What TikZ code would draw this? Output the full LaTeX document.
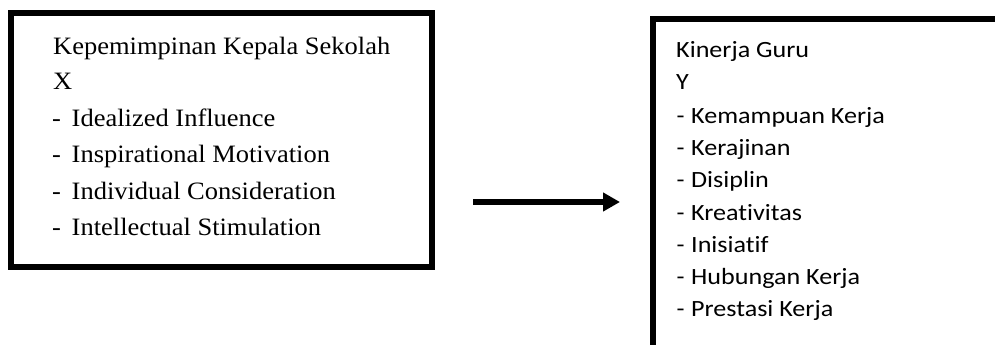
\documentclass[tikz,border=0pt]{standalone}
\usepackage{fontspec}
\usetikzlibrary{arrows.meta}
\newfontfamily\lftfont{Liberation Serif}[FakeStretch=1.06,Ligatures={NoCommon}]
\newfontfamily\rgtfont{Carlito}[FakeStretch=1.12,Ligatures={NoCommon},RawFeature={-liga;-clig;-dlig}]
\tikzset{
  frame/.style={draw=black, line width=6pt, rectangle, inner sep=0pt, line join=miter},
  ltxt/.style={anchor=base west, inner sep=0pt, font=\lftfont\fontsize{25}{30}\selectfont},
  rtxt/.style={anchor=base west, inner sep=0pt, font=\rgtfont\fontsize{23.3}{28}\selectfont},
  flow/.style={line width=6pt, -{Triangle[length=17pt,width=18pt]}}
}
\begin{document}
\begin{tikzpicture}[x=1pt,y=-1pt]
\useasboundingbox (0,0) rectangle (995,345);
% left box
\node[frame, minimum width=421pt, minimum height=254pt] (L) at (221.5,140) {};
\node[ltxt] (l1) at (53,55) {Kepemimpinan Kepala Sekolah};
\node[ltxt] (l2) at (53,89) {X};
\node[ltxt] (l3) at (52,126) {\makebox[19.5pt][l]{-}Idealized Influence};
\node[ltxt] (l4) at (52,162) {\makebox[19.5pt][l]{-}Inspirational Motivation};
\node[ltxt] (l5) at (52,199) {\makebox[19.5pt][l]{-}Individual Consideration};
\node[ltxt] (l6) at (52,235) {\makebox[19.5pt][l]{-}Intellectual Stimulation};
% right box
\node[frame, minimum width=347pt, minimum height=328.5pt] (R) at (826.5,183.25) {};
\node[rtxt] (r1) at (676,58) {Kinerja Guru};
\node[rtxt] (r2) at (676,89) {Y};
\node[rtxt] (r3) at (676.5,123) {\makebox[14.5pt][l]{-}Kemampuan Kerja};
\node[rtxt] (r4) at (676.5,155) {\makebox[14.5pt][l]{-}Kerajinan};
\node[rtxt] (r5) at (676.5,187.5) {\makebox[14.5pt][l]{-}Disiplin};
\node[rtxt] (r6) at (676.5,220) {\makebox[14.5pt][l]{-}Kreativitas};
\node[rtxt] (r7) at (676.5,252) {\makebox[14.5pt][l]{-}Inisiatif};
\node[rtxt] (r8) at (676.5,284) {\makebox[14.5pt][l]{-}Hubungan Kerja};
\node[rtxt] (r9) at (676.5,316.5) {\makebox[14.5pt][l]{-}Prestasi Kerja};
% arrow
\coordinate (a1) at (473,202);
\coordinate (a2) at (620,202);
\draw[flow] (a1) -- (a2);
\end{tikzpicture}
\end{document}
